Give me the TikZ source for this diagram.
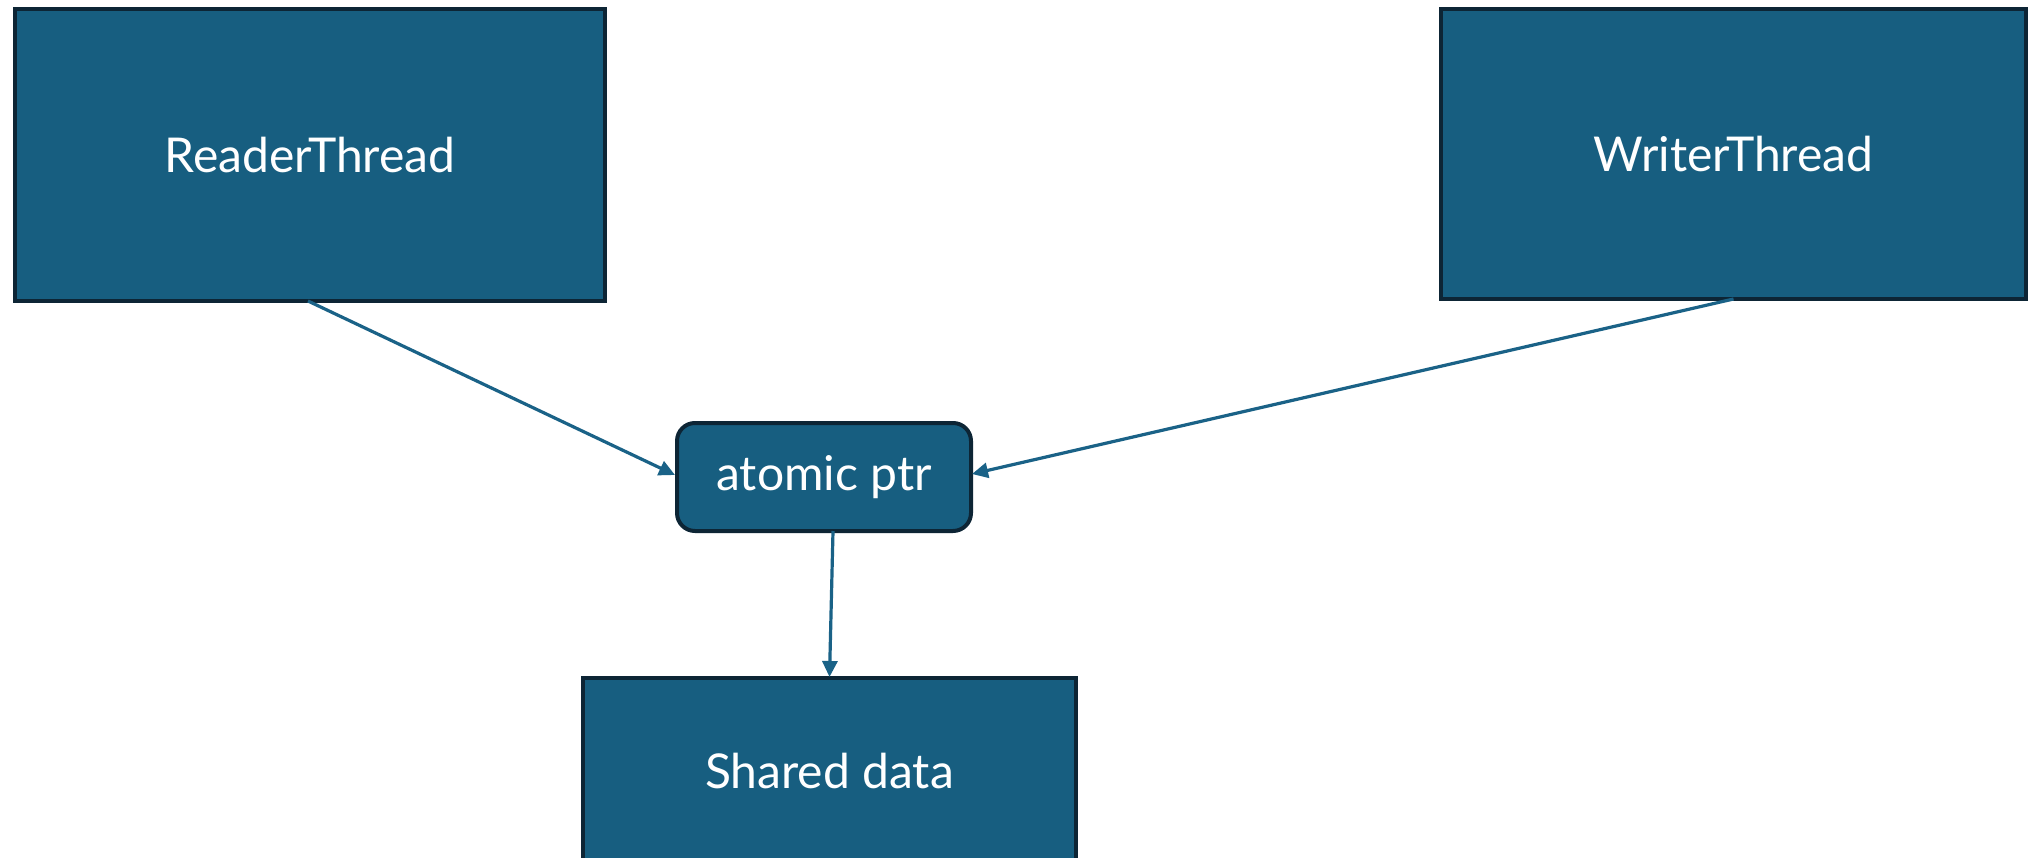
\documentclass[tikz,border=0pt]{standalone}
\usepackage{fontspec}
\setmainfont{Lato}
\usetikzlibrary{arrows.meta,calc}
\definecolor{boxfill}{HTML}{175E80}
\definecolor{boxline}{HTML}{0D2535}
\definecolor{flow}{HTML}{1A6287}
\tikzset{
  threadbox/.style={draw=boxline, fill=boxfill, line width=4pt, text=white,
    font=\fontsize{48}{54}\selectfont, inner sep=0pt, outer sep=0pt},
  ptrbox/.style={threadbox, rounded corners=18pt},
  flowarrow/.style={draw=flow, line width=3.2pt,
    -{Triangle[length=16pt,width=15pt]}},
}
\begin{document}
\begin{tikzpicture}[x=1pt,y=-1pt]
  \clip (0,0) rectangle (2028,858);
  \fill[white] (0,0) rectangle (2028,858);
  \node[threadbox, minimum width=590pt, minimum height=292pt] (reader) at (310,155) {ReaderThread};
  \node[threadbox, minimum width=585pt, minimum height=290pt] (writer) at (1733.5,154) {WriterThread};
  \node[ptrbox, minimum width=294pt, minimum height=108pt] (ptr) at (824,477) {atomic ptr};
  \node[threadbox, minimum width=493pt, minimum height=186pt] (shared) at (829.5,771) {Shared data};
  \draw[flowarrow] ($(reader.south)+(-2,0)$) -- ($(ptr.west)+(-2,-2)$);
  \draw[flowarrow] (writer.south) -- ($(ptr.east)+(1,-3)$);
  \draw[flowarrow] ($(ptr.south)+(9,0)$) -- ($(shared.north)+(0,-1)$);
\end{tikzpicture}
\end{document}
